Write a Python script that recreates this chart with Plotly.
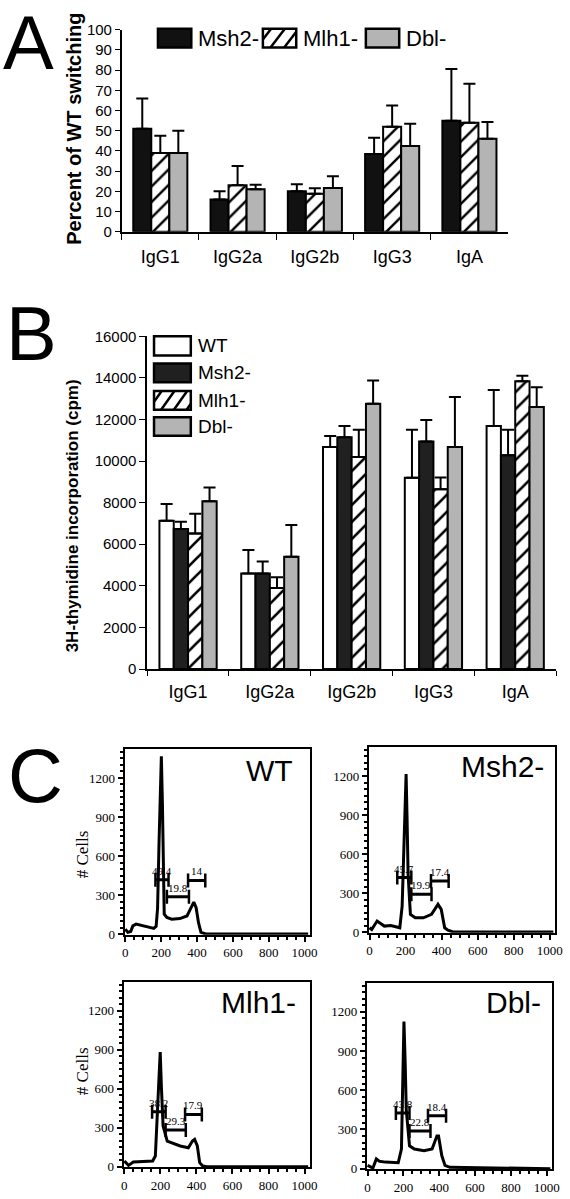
import plotly.graph_objects as go

W, H = 570, 1199

# ---------------- Panel A data (percent of WT switching) ----------------
isotypes = ["IgG1", "IgG2a", "IgG2b", "IgG3", "IgA"]
a_msh2 = [51, 16, 20, 38.5, 55]
a_msh2_top = [66, 20, 23.5, 46.5, 80.5]
a_mlh1 = [39, 23, 18.8, 52, 54]
a_mlh1_top = [47.5, 32.5, 21.5, 62.5, 73.3]
a_dbl = [39, 21, 21.7, 42.5, 46]
a_dbl_top = [50, 23.3, 27.5, 53.5, 54.3]

# ---------------- Panel B data (3H-thymidine incorporation, cpm) --------
b_wt = [7130, 4590, 10680, 9200, 11690]
b_wt_top = [7940, 5720, 11210, 11500, 13420]
b_msh2 = [6730, 4590, 11150, 10940, 10280]
b_msh2_top = [7080, 5170, 11690, 11970, 11500]
b_mlh1 = [6520, 3900, 10200, 8650, 13840]
b_mlh1_top = [7470, 4410, 11500, 9210, 14100]
b_dbl = [8070, 5400, 12760, 10680, 12600]
b_dbl_top = [8730, 6920, 13870, 13080, 13550]

# ---------------- Panel C data (DNA content histograms) -----------------
wt_x = [0, 14, 30, 42, 60, 105, 159, 172, 180, 188, 194, 201, 207, 212, 217, 232, 259, 304, 344, 362, 382, 395, 408, 422, 449, 600, 1020]
wt_y = [38, 13, 20, 63, 76, 63, 43, 60, 200, 700, 1150, 1367, 1000, 500, 152, 127, 114, 119, 139, 190, 245, 202, 89, 13, 0, 0, 0]
msh2_x = [0, 12, 42, 60, 82, 118, 168, 181, 192, 198, 203, 208, 214, 222, 227, 254, 299, 344, 380, 398, 417, 435, 460, 600, 1020]
msh2_y = [33, 20, 85, 70, 46, 51, 33, 200, 700, 1100, 1215, 900, 450, 250, 136, 110, 110, 136, 213, 174, 33, 15, 3, 0, 0]
mlh1_x = [0, 23, 50, 157, 172, 185, 192, 199, 206, 215, 238, 265, 310, 355, 378, 390, 405, 418, 435, 460, 1020]
mlh1_y = [44, 10, 36, 44, 82, 450, 750, 882, 600, 313, 197, 185, 159, 146, 197, 210, 159, 31, 5, 0, 0]
dbl_x = [0, 30, 49, 67, 99, 171, 189, 196, 203, 210, 216, 234, 261, 315, 360, 387, 396, 414, 432, 459, 1020]
dbl_y = [25, 5, 75, 56, 50, 45, 150, 700, 1125, 800, 450, 175, 150, 137, 150, 250, 250, 100, 25, 10, 0]

# gates: start, end, height, percentage label
wt_gates = [(168, 241, 418, "49.4"), (232, 355, 286, "19.8"), (350, 446, 412, "14")]
msh2_gates = [(154, 232, 419, "45.7"), (232, 344, 290, "19.9"), (341, 439, 392, "17.4")]
mlh1_gates = [(154, 229, 423, "38.2"), (229, 341, 282, "29.3"), (337, 430, 402, "17.9")]
dbl_gates = [(158, 234, 425, "43.8"), (234, 351, 288, "22.8"), (337, 438, 405, "18.4")]

BLACK = "#111111"
GREY = "#b4b4b4"
SANS = "Liberation Sans, Arial, sans-serif"
SERIF = "Liberation Serif, Times New Roman, serif"


def px(x):
    return x / W


def py(y):
    return 1 - y / H


fig = go.Figure()


def add_bars(vals, tops, color, xa, ya, name, hatch=None):
    marker = dict(color=color, line=dict(color="black", width=2))
    if hatch:
        marker["pattern"] = dict(shape="/", fgcolor="black", bgcolor="white",
                                 size=hatch, solidity=0.22, fillmode="replace")
    fig.add_trace(go.Bar(
        x=isotypes, y=vals, name=name, xaxis=xa, yaxis=ya, showlegend=False,
        marker=marker,
        error_y=dict(type="data", symmetric=False,
                     array=[t - v for v, t in zip(vals, tops)],
                     arrayminus=[0] * len(vals),
                     color="black", thickness=2, width=6)))


add_bars(a_msh2, a_msh2_top, BLACK, "x", "y", "Msh2-")
add_bars(a_mlh1, a_mlh1_top, "white", "x", "y", "Mlh1-", hatch=11)
add_bars(a_dbl, a_dbl_top, GREY, "x", "y", "Dbl-")

add_bars(b_wt, b_wt_top, "white", "x2", "y2", "WT")
add_bars(b_msh2, b_msh2_top, "#202020", "x2", "y2", "Msh2-")
add_bars(b_mlh1, b_mlh1_top, "white", "x2", "y2", "Mlh1-", hatch=12)
add_bars(b_dbl, b_dbl_top, GREY, "x2", "y2", "Dbl-")

panels = [
    ("WT", wt_x, wt_y, wt_gates, "x3", "y3"),
    ("Msh2-", msh2_x, msh2_y, msh2_gates, "x4", "y4"),
    ("Mlh1-", mlh1_x, mlh1_y, mlh1_gates, "x5", "y5"),
    ("Dbl-", dbl_x, dbl_y, dbl_gates, "x6", "y6"),
]
annotations = []
for title, hx, hy, gates, xa, ya in panels:
    fig.add_trace(go.Scatter(x=hx, y=hy, mode="lines", xaxis=xa, yaxis=ya,
                             line=dict(color="black", width=3), showlegend=False))
    for g0, g1, gy, lab in gates:
        fig.add_trace(go.Scatter(
            x=[g0, g1], y=[gy, gy], mode="lines+markers", xaxis=xa, yaxis=ya,
            line=dict(color="black", width=3), showlegend=False,
            marker=dict(symbol="line-ns", size=10, color="black",
                        line=dict(width=2.5, color="black"))))
        annotations.append(dict(x=(g0 + g1) / 2, y=gy, xref=xa, yref=ya, text=lab,
                                showarrow=False, yshift=9, xanchor="center", yanchor="middle",
                                font=dict(family=SERIF, size=11, color="black")))

# ---------------- layout ----------------
ax = dict(showgrid=False, zeroline=False, showline=True, linecolor="black",
          ticks="outside", tickcolor="black")

layout = dict(
    width=W, height=H, margin=dict(l=0, r=0, t=0, b=0),
    paper_bgcolor="white", plot_bgcolor="white",
    barmode="group", bargap=0.3, bargroupgap=0, showlegend=False,
    font=dict(family=SANS, color="black"),
)

layout["xaxis"] = dict(ax, domain=[px(121), px(515)], anchor="y", type="category",
                       tickson="boundaries", ticklen=6, linewidth=1.5,
                       tickfont=dict(size=18), ticklabelstandoff=8)
layout["yaxis"] = dict(ax, domain=[py(226), py(21)], anchor="x", range=[0, 100],
                       dtick=10, ticklen=5, linewidth=1.5, tickfont=dict(size=15))
layout["xaxis2"] = dict(ax, domain=[px(147), px(564)], anchor="y2", type="category",
                        tickson="boundaries", ticklen=5, linewidth=1.5,
                        tickfont=dict(size=18), ticklabelstandoff=6)
layout["yaxis2"] = dict(ax, domain=[py(669.5), py(332)], anchor="x2", range=[0, 16000],
                        dtick=2000, tickformat="d", ticklen=6, linewidth=1.5,
                        tickfont=dict(size=15))

c_dom = {
    3: ((124, 313), (751, 939)),
    4: ((373, 563), (749, 937)),
    5: ((123, 313), (987, 1175)),
    6: ((371, 560), (988, 1177)),
}
for i, ((x0, x1), (y0, y1)) in c_dom.items():
    layout[f"xaxis{i}"] = dict(ax, domain=[px(x0), px(x1)], anchor=f"y{i}",
                               range=[-4, 1030], dtick=200, mirror=True, linewidth=2,
                               ticklen=5, tickwidth=1.5,
                               minor=dict(dtick=50, ticklen=3, ticks="outside", tickcolor="black"),
                               tickfont=dict(family=SERIF, size=13))
    layout[f"yaxis{i}"] = dict(ax, domain=[py(y1), py(y0)], anchor=f"x{i}",
                               range=[-5, 1420], dtick=300, mirror=True, linewidth=2,
                               ticklen=5, tickwidth=1.5,
                               minor=dict(dtick=50, ticklen=3, ticks="outside", tickcolor="black"),
                               tickfont=dict(family=SERIF, size=13))

fig.update_layout(**layout)


def note(x, y, text, size, family=SANS, angle=0, xanchor="center", yanchor="middle"):
    annotations.append(dict(x=px(x), y=py(y), xref="paper", yref="paper", text=text,
                            showarrow=False, xanchor=xanchor, yanchor=yanchor,
                            textangle=angle,
                            font=dict(family=family, size=size, color="black")))


# panel letters
note(26, 34, "A", 76)
note(29, 329, "B", 76)
note(33, 778, "C", 76)

# axis titles
note(73, 122, "<b>Percent of WT switching</b>", 20, angle=-90)
note(71, 514, "<b>3H-thymidine incorporation (cpm)</b>", 17, angle=-90)
note(81, 857, "# Cells", 17, family=SERIF, angle=-90)
note(81, 1077, "# Cells", 17, family=SERIF, angle=-90)

# histogram panel titles
for title, rx, cy in [("WT", 298, 772), ("Msh2-", 554, 768), ("Mlh1-", 301, 1008), ("Dbl-", 551, 1008)]:
    note(rx, cy, title, 30, xanchor="right")

# ---------------- custom legends (boxes drawn as shapes) ----------------
shapes = []


def box(x0, y0, x1, y1, fill):
    shapes.append(dict(type="rect", xref="paper", yref="paper", x0=px(x0), x1=px(x1),
                       y0=py(y1), y1=py(y0), fillcolor=fill,
                       line=dict(color="black", width=2.5)))


def hatch_box(x0, y0, x1, y1, step, slope):
    box(x0, y0, x1, y1, "white")
    h = y1 - y0
    c = x0 - h / slope + step * 0.6
    while c < x1:
        xa_, xb_ = max(c, x0), min(c + h / slope, x1)
        if xb_ > xa_:
            ya_ = y1 - slope * (xa_ - c)
            yb_ = y1 - slope * (xb_ - c)
            shapes.append(dict(type="line", xref="paper", yref="paper",
                               x0=px(xa_), y0=py(ya_), x1=px(xb_), y1=py(yb_),
                               line=dict(color="black", width=2.5)))
        c += step


# legend A (horizontal)
leg_a = [("Msh2-", BLACK, 158, 192, 197), ("Mlh1-", None, 265, 299, 304), ("Dbl-", GREY, 370, 404, 409)]
for name, fill, bx0, bx1, tx in leg_a:
    if fill is None:
        hatch_box(bx0, 20, bx1, 39, 14, 1.3)
    else:
        box(bx0, 20, bx1, 39, fill)
    note(tx, 30, name, 22, xanchor="left")

# legend B (vertical)
leg_b = [("WT", "white", 332, 351.5), ("Msh2-", "#202020", 359.5, 378.5),
         ("Mlh1-", None, 387.5, 406.5), ("Dbl-", GREY, 414, 433)]
for name, fill, by0, by1 in leg_b:
    if fill is None:
        hatch_box(154, by0, 191.5, by1, 13, 1.4)
    else:
        box(154, by0, 191.5, by1, fill)
    note(197, (by0 + by1) / 2, name, 19, xanchor="left")

fig.update_layout(annotations=annotations, shapes=shapes)

fig.write_html("out.html", config={"displayModeBar": False},
               post_script="document.body.style.margin='0';")
